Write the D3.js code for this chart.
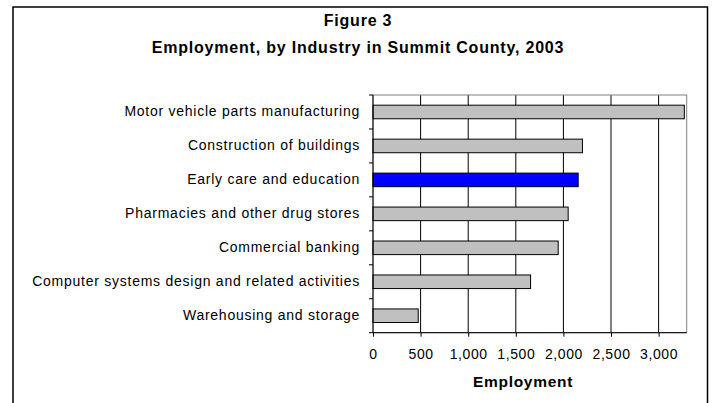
<!DOCTYPE html>
<html><head><meta charset="utf-8">
<script src="https://cdn.jsdelivr.net/npm/d3@7"></script>
<style>body{margin:0;background:#fff;} svg{display:block;font-family:"Liberation Sans",Arial,sans-serif;}</style>
</head><body>
<svg id="c" width="714" height="403"></svg>
<script>
const categories = ["Motor vehicle parts manufacturing","Construction of buildings","Early care and education","Pharmacies and other drug stores","Commercial banking","Computer systems design and related activities","Warehousing and storage"];
const values = [3270, 2200, 2155, 2050, 1945, 1655, 475];
const highlight = ["Early care and education"];
const xTicks = [0,500,1000,1500,2000,2500,3000];
const titleLines = ["Figure 3","Employment, by Industry in Summit County, 2003"];
const xTitle = "Employment";

const svg = d3.select("#c");
svg.append("rect").attr("x",13).attr("y",7).attr("width",694.5).attr("height",420)
  .attr("fill","none").attr("stroke","#000").attr("stroke-width",1.5);

const L=373, R=686.7, T=95, B=332.7;
const x = d3.scaleLinear().domain([0,3295]).range([L,R]);
const y = d3.scaleBand().domain(categories).range([T,B]).paddingInner(0.6).paddingOuter(0.3);
const FF = "Liberation Sans, Arial, sans-serif";

svg.selectAll("text.title").data(titleLines).enter().append("text")
  .attr("x",358).attr("y",(d,i)=>26+i*27).attr("text-anchor","middle")
  .attr("font-weight","bold").attr("font-size",16).attr("letter-spacing",0.8).text(d=>d);

// gridlines
svg.append("g").selectAll("line").data(xTicks.slice(1)).enter().append("line")
  .attr("x1",d=>x(d)).attr("x2",d=>x(d)).attr("y1",T).attr("y2",B)
  .attr("stroke","#000").attr("stroke-width",1);
// plot frame
svg.append("rect").attr("x",L).attr("y",T).attr("width",R-L).attr("height",B-T)
  .attr("fill","none").attr("stroke","#808080").attr("stroke-width",1);

// bars
svg.append("g").selectAll("rect").data(categories).enter().append("rect")
  .attr("x",L).attr("y",d=>y(d)).attr("width",(d,i)=>x(values[i])-L).attr("height",y.bandwidth())
  .attr("fill",d=>highlight.includes(d)?"#0000ff":"#c0c0c0").attr("stroke","#000").attr("stroke-width",1);

// x axis
const xa = svg.append("g").attr("transform",`translate(0,${B})`)
  .call(d3.axisBottom(x).tickValues(xTicks).tickSize(4).tickPadding(12).tickFormat(d3.format(",")));
xa.select(".domain").attr("stroke","#000").attr("d",`M${L},0H${R}`);
xa.selectAll("text").attr("font-size",14).attr("letter-spacing",0.6).attr("fill","#000").attr("font-family",FF);

// y axis
const step = (B-T)/categories.length;
const ya = svg.append("g").attr("transform",`translate(${L},0)`)
  .call(d3.axisLeft(y).tickSize(0).tickPadding(13));
ya.select(".domain").attr("stroke","#000").attr("d",`M0,${T}V${B}`);
ya.selectAll("text").attr("font-size",14).attr("letter-spacing",0.75).attr("fill","#000").attr("font-family",FF);
svg.append("g").selectAll("line").data(d3.range(categories.length+1)).enter().append("line")
  .attr("x1",L-4).attr("x2",L).attr("y1",i=>T+i*step).attr("y2",i=>T+i*step).attr("stroke","#000");

svg.append("text").attr("x",523).attr("y",387).attr("text-anchor","middle")
  .attr("font-weight","bold").attr("font-size",15.5).attr("letter-spacing",0.7).text(xTitle);
</script>
</body></html>
